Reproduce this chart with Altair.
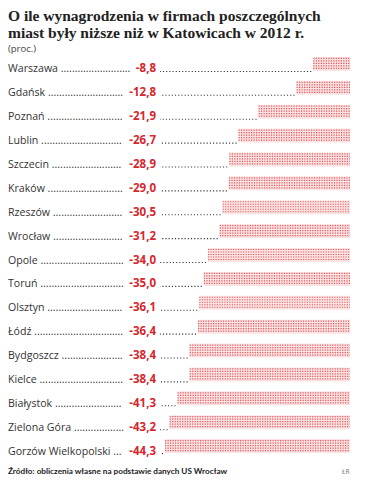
import altair as alt
import pandas as pd

cities = ["Warszawa", "Gdańsk", "Poznań", "Lublin", "Szczecin", "Kraków", "Rzeszów",
          "Wrocław", "Opole", "Toruń", "Olsztyn", "Łódź", "Bydgoszcz", "Kielce",
          "Białystok", "Zielona Góra", "Gorzów Wielkopolski"]
values = [-8.8, -12.8, -21.9, -26.7, -28.9, -29.0, -30.5, -31.2, -34.0, -35.0,
          -36.1, -36.4, -38.4, -38.4, -41.3, -43.2, -44.3]

title_lines = ["O ile wynagrodzenia w firmach poszczególnych",
               "miast były niższe niż w Katowicach w 2012 r."]
subtitle = "(proc.)"
source = "Źródło: obliczenia własne na podstawie danych US Wrocław"
credit = "ŁR"

df = pd.DataFrame({"city": cities, "value": values})
df["label"] = df["value"].map(lambda v: f"{v:.1f}".replace(".", ","))
df["lead"] = df["city"] + " " + "." * 90

W, H = 354, 478
SANS = "Open Sans"
SERIF = "Liberation Serif"
RED = "#d7262e"

xs = alt.Scale(domain=[-81.9, 0], range=[0, 342])
ys = alt.Scale(domain=cities, range=[44, 450], paddingInner=0, paddingOuter=0)
X = alt.X("value:Q", scale=xs, axis=None)
Y = alt.Y("city:N", scale=ys, axis=None, sort=cities)

base = alt.Chart(df)

bg = base.mark_bar(height=14, fill="#fce3e3").encode(x=X, x2=alt.datum(0), y=Y)
dots = [
    base.mark_rule(strokeDash=[1.2, 1.3], strokeWidth=1.2, color="#e4585c", yOffset=o).encode(
        x=X, x2=alt.datum(0), y=Y)
    for o in [-5.5, -3, -0.5, 2, 4.5]
]

FS = 10.6
lead = base.mark_text(align="left", baseline="alphabetic", dy=8.5, font=SANS, fontSize=FS,
                      color="#333333", limit=alt.ExprRef("151 - 7*length(datum.label)"),
                      ellipsis="").encode(
    x=alt.value(0), y=Y, text="lead:N")
lab = base.mark_text(align="right", baseline="alphabetic", dy=8.5, font=SANS, fontSize=11.5,
                     fontWeight="bold", color=RED).encode(
    x=alt.value(148), y=Y, text="label:N")
lead2 = base.mark_rule(strokeDash=[1.1, 2.1], strokeWidth=1.1, color="#333333",
                       yOffset=7.5, xOffset=-2).encode(
    x=X, x2=alt.value(152), y=Y)

one = alt.Data(values=[{"a": 1}])
def txt(t, x, y, **kw):
    return alt.Chart(one).mark_text(align="left", baseline="alphabetic", **kw).encode(
        x=alt.value(x), y=alt.value(y), text=alt.value(t))

t1 = txt(title_lines[0], 0, 13, font=SERIF, fontSize=15.5, fontWeight="bold", color="#222222")
t2 = txt(title_lines[1], 0, 29.5, font=SERIF, fontSize=15.5, fontWeight="bold", color="#222222")
t3 = txt(subtitle, 0, 44, font=SANS, fontSize=9.5, color="#444444")
src = txt(source, 0, 466, font="Lato", fontSize=8.2, fontWeight="bold", color="#222222")
cr = txt(credit, 334, 466, font=SANS, fontSize=6.5, color="#777777")

chart = alt.layer(bg, *dots, lead, lab, lead2, t1, t2, t3, src, cr).properties(
    width=W, height=H, padding=0, autosize=alt.AutoSizeParams(type="none")
).configure_view(stroke=None)

chart.save("out.html", embed_options={"renderer": "svg", "actions": False})
